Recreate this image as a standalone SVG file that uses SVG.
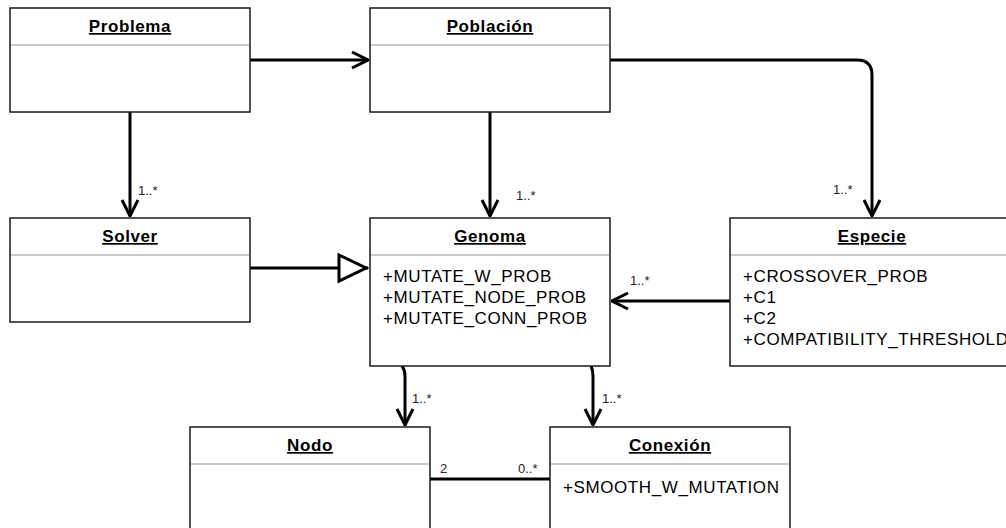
<svg xmlns="http://www.w3.org/2000/svg" width="1006" height="528" viewBox="0 0 1006 528">
  <style>
    .box { fill: #ffffff; stroke: #1a1a1a; stroke-width: 1.5; }
    .sep { stroke: #c8c8c8; stroke-width: 2; }
    .title { font-family: "Liberation Sans", Arial, sans-serif; font-size: 17px; letter-spacing: 0.6px; font-weight: bold; text-anchor: middle; text-decoration: underline; fill: #000; }
    .attr { font-family: "Liberation Sans", Arial, sans-serif; font-size: 17px; letter-spacing: 0.6px; fill: #000; }
    .mult { font-family: "Liberation Sans", Arial, sans-serif; font-size: 13px; fill: #222; }
    .edge { fill: none; stroke: #000; stroke-width: 3; }
  </style>
  <defs>
    <marker id="open" viewBox="0 0 20 20" refX="19" refY="10" markerWidth="20" markerHeight="20" markerUnits="userSpaceOnUse" orient="auto">
      <path d="M3,2 L19,10 L3,18" fill="none" stroke="#000" stroke-width="3"/>
    </marker>
    <marker id="inherit" viewBox="0 0 32 32" refX="31" refY="16" markerWidth="32" markerHeight="32" markerUnits="userSpaceOnUse" orient="auto">
      <path d="M2,3 L29,16 L2,29 Z" fill="#fff" stroke="#000" stroke-width="3"/>
    </marker>
  </defs>

  <rect width="1006" height="528" fill="#ffffff"/>

  <!-- associations and generalisation -->
  <g id="connectors">
    <path class="edge" d="M250,60 L368,60" marker-end="url(#open)"/>
    <path class="edge" d="M130,112 L130,216" marker-end="url(#open)"/>
    <path class="edge" d="M490,112 L490,216" marker-end="url(#open)"/>
    <path class="edge" d="M610,60 L857,60 Q872,60 872,75 L872,216" marker-end="url(#open)"/>
    <path class="edge" d="M250,268 L368,268" marker-end="url(#inherit)"/>
    <path class="edge" d="M730,301 L612,301" marker-end="url(#open)"/>
    <path class="edge" d="M402,366 Q405,370 405,376 L405,425" marker-end="url(#open)"/>
    <path class="edge" d="M591,366 Q593,370 593,376 L593,425" marker-end="url(#open)"/>
    <path class="edge" d="M430,479 L550,479"/>
    <text class="mult" x="138" y="195">1..*</text>
    <text class="mult" x="516" y="200">1..*</text>
    <text class="mult" x="833" y="194">1..*</text>
    <text class="mult" x="630" y="285">1..*</text>
    <text class="mult" x="412" y="403">1..*</text>
    <text class="mult" x="602" y="403">1..*</text>
    <text class="mult" x="440" y="473">2</text>
    <text class="mult" x="518" y="473">0..*</text>
  </g>

  <g id="problema">
    <rect class="box" x="10" y="8" width="240" height="104"/>
    <line class="sep" x1="11" y1="45" x2="249" y2="45"/>
    <text class="title" x="130" y="32">Problema</text>
  </g>

  <g id="poblacion">
    <rect class="box" x="370" y="8" width="240" height="104"/>
    <line class="sep" x1="371" y1="45" x2="609" y2="45"/>
    <text class="title" x="490" y="32">Población</text>
  </g>

  <g id="solver">
    <rect class="box" x="10" y="218" width="240" height="104"/>
    <line class="sep" x1="11" y1="255" x2="249" y2="255"/>
    <text class="title" x="130" y="242">Solver</text>
  </g>

  <g id="genoma">
    <rect class="box" x="370" y="218" width="240" height="148"/>
    <line class="sep" x1="371" y1="255" x2="609" y2="255"/>
    <text class="title" x="490" y="242">Genoma</text>
    <text class="attr" x="383" y="282">+MUTATE_W_PROB</text>
    <text class="attr" x="383" y="303">+MUTATE_NODE_PROB</text>
    <text class="attr" x="383" y="324">+MUTATE_CONN_PROB</text>
  </g>

  <g id="especie">
    <rect class="box" x="730" y="218" width="290" height="148"/>
    <line class="sep" x1="731" y1="255" x2="1006" y2="255"/>
    <text class="title" x="872" y="242">Especie</text>
    <text class="attr" x="743" y="282">+CROSSOVER_PROB</text>
    <text class="attr" x="743" y="303">+C1</text>
    <text class="attr" x="743" y="324">+C2</text>
    <text class="attr" x="743" y="345">+COMPATIBILITY_THRESHOLD</text>
  </g>

  <g id="nodo">
    <rect class="box" x="190" y="427" width="240" height="120"/>
    <line class="sep" x1="191" y1="464" x2="429" y2="464"/>
    <text class="title" x="310" y="451">Nodo</text>
  </g>

  <g id="conexion">
    <rect class="box" x="550" y="427" width="240" height="120"/>
    <line class="sep" x1="551" y1="464" x2="789" y2="464"/>
    <text class="title" x="670" y="451">Conexión</text>
    <text class="attr" x="563" y="493">+SMOOTH_W_MUTATION</text>
  </g>
</svg>
